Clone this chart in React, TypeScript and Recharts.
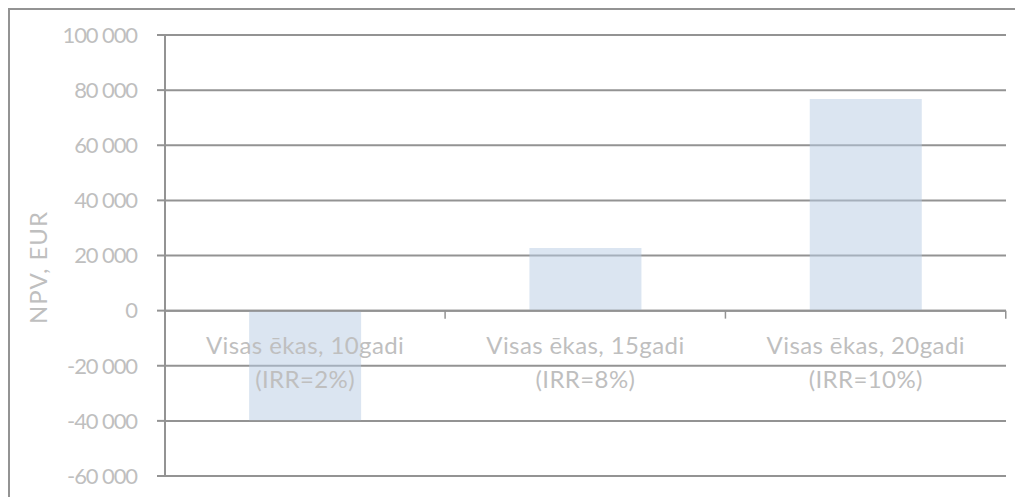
import React from "react";
import {
  BarChart,
  Bar,
  XAxis,
  YAxis,
  CartesianGrid,
  ReferenceLine,
  LabelList,
} from "recharts";

const categoryLine1 = ["Visas ēkas, 10gadi", "Visas ēkas, 15gadi", "Visas ēkas, 20gadi"];
const categoryLine2 = ["(IRR=2%)", "(IRR=8%)", "(IRR=10%)"];
const npvValues = [-39800, 22700, 76800];
const yTicks = [-60000, -40000, -20000, 0, 20000, 40000, 60000, 80000, 100000];

const data = categoryLine1.map((name, i) => ({
  name,
  sub: categoryLine2[i],
  npv: npvValues[i],
}));

const TEXT = "#bfbfbf";
const RULE = "#939393";
const FONT = "Lato, 'Open Sans', sans-serif";

const fmt = (v: number) => {
  const s = Math.abs(v).toString().replace(/\B(?=(\d{3})+(?!\d))/g, "\u00a0");
  return v < 0 ? `-${s}` : s;
};

// category labels sit under the zero line, not at the bottom of the plot
const CategoryLabel = (props: any) => {
  const { x, y, width, height, index, value } = props;
  const top = Math.min(y, y + height);
  const bottom = Math.max(y, y + height);
  const zeroY = value >= 0 ? bottom : top;
  const cx = x + width / 2;
  const band = width / 0.4;
  return (
    <g>
      <line x1={cx + band / 2} x2={cx + band / 2} y1={zeroY} y2={zeroY + 8} stroke={RULE} strokeWidth={1.5} />
      <text x={cx} y={zeroY + 43} textAnchor="middle" fill={TEXT} fontSize={24} letterSpacing={0.4} fontFamily={FONT}>
        {categoryLine1[index]}
      </text>
      <text x={cx} y={zeroY + 77} textAnchor="middle" fill={TEXT} fontSize={24} letterSpacing={0.4} fontFamily={FONT}>
        {categoryLine2[index]}
      </text>
    </g>
  );
};

export default function App() {
  return (
    <div style={{ width: 1015, height: 489, overflow: "hidden" }}>
      <div style={{ width: 1060, height: 540, border: `2px solid ${RULE}` }}>
        <BarChart
          width={1013}
          height={480}
          data={data}
          margin={{ top: 25, right: 17, bottom: 14, left: 0 }}
          barCategoryGap="30%"
        >
          <CartesianGrid vertical={false} stroke={RULE} strokeWidth={2} />
          <XAxis dataKey="name" hide />
          <YAxis
            width={155}
            domain={[-60000, 100000]}
            ticks={yTicks}
            interval={0}
            tickFormatter={fmt}
            tickSize={8}
            tickMargin={20}
            axisLine={{ stroke: RULE, strokeWidth: 2 }}
            tickLine={{ stroke: RULE, strokeWidth: 2 }}
            tick={{ fill: TEXT, fontSize: 22, fontFamily: FONT, letterSpacing: -1.1 }}
            label={{
              content: ({ viewBox }: any) => {
                const lx = viewBox.x + 27;
                const ly = viewBox.y + viewBox.height / 2 + 12;
                return (
                  <text
                    x={lx}
                    y={ly}
                    transform={`rotate(-90 ${lx} ${ly})`}
                    textAnchor="middle"
                    dominantBaseline="central"
                    fill={TEXT}
                    fontSize={24}
                    letterSpacing={1}
                    fontFamily={FONT}
                  >
                    NPV, EUR
                  </text>
                );
              },
            }}
          />
          <Bar dataKey="npv" fill="#b8cce4" fillOpacity={0.5} isAnimationActive={false}>
            <LabelList dataKey="npv" content={CategoryLabel} />
          </Bar>
          <ReferenceLine y={0} stroke={RULE} strokeWidth={2} />
        </BarChart>
      </div>
    </div>
  );
}
